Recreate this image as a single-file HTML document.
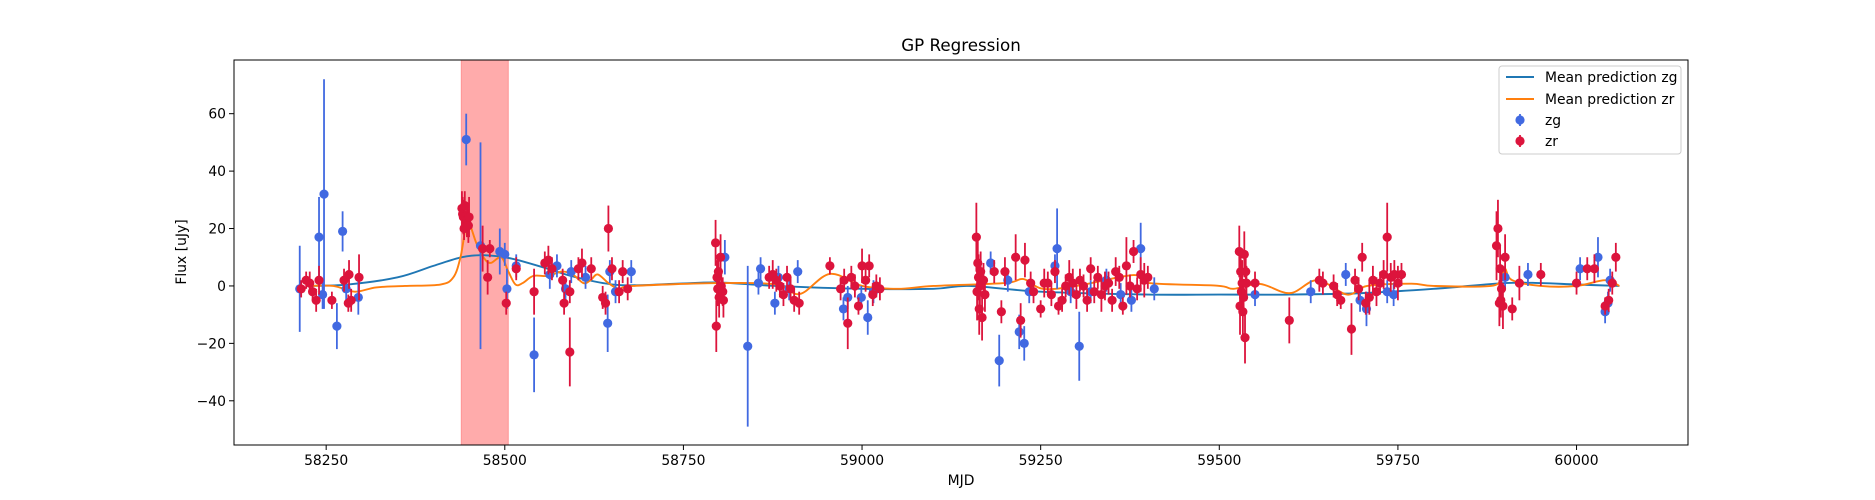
<!DOCTYPE html>
<html><head><meta charset="utf-8"><style>
html,body{margin:0;padding:0;background:#fff;}
svg{display:block;font-family:"DejaVu Sans","Liberation Sans",sans-serif;}
</style></head><body>
<svg id="chart" width="1875" height="500" viewBox="0 0 1875 500" xmlns="http://www.w3.org/2000/svg">
<rect x="0" y="0" width="1875" height="500" fill="#fff"/>
<text x="961" y="51" text-anchor="middle" font-size="16.7">GP Regression</text>
<g id="plot"></g>
<text x="961" y="485" text-anchor="middle" font-size="13.9">MJD</text>
<text x="0" y="0" transform="translate(186,252) rotate(-90)" text-anchor="middle" font-size="13.9">Flux [uJy]</text>
</svg>
<script>
const xTicks=[58250,58500,58750,59000,59250,59500,59750,60000];
const yTicks=[-40,-20,0,20,40,60];
const highlightRange=[58439,58505];
const zgPoints=[[58213,-1,15],[58240,17,14],[58247,32,40],[58245,-3,5],[58265,-14,8],[58273,19,7],[58278,-1,4],[58295,-4,6],[58446,51,9],[58466,14,36],[58493,12,8],[58500,11,4],[58503,-1,7],[58516,7,4],[58541,-24,13],[58563,4,5],[58573,7,4],[58585,-1,4],[58593,5,4],[58613,3,4],[58644,-13,10],[58647,5,4],[58655,-2,4],[58677,5,4],[58808,10,6],[58840,-21,28],[58858,6,4],[58855,1,4],[58878,-6,4],[58883,3,4],[58898,-1,4],[58910,5,4],[58974,-8,4],[58980,-4,4],[58999,-4,4],[59008,-11,6],[59016,-2,4],[59180,8,4],[59192,-26,9],[59204,2,4],[59220,-16,6],[59227,-20,6],[59234,-2,4],[59270,7,4],[59273,13,14],[59292,-2,4],[59304,-21,12],[59320,-2,4],[59342,2,4],[59362,-3,4],[59377,-5,4],[59390,13,9],[59409,-1,4],[59550,-3,4],[59628,-2,4],[59677,4,4],[59697,-5,4],[59706,-8,6],[59735,-2,4],[59744,-3,4],[59932,4,4],[59900,3,4],[60005,6,4],[60030,10,7],[60040,-9,4],[60047,2,4],[60044,-6,4]];
const zrPoints=[[58215,-1,3],[58222,2,3],[58227,1,4],[58231,-2,3],[58236,-5,4],[58240,2,5],[58258,-5,3],[58275,2,4],[58282,4,5],[58281,-6,3],[58285,-5,4],[58296,3,8],[58440,27,6],[58441,25,6],[58442,24,6],[58443,20,4],[58444,28,5],[58447,23,6],[58449,21,6],[58450,24,7],[58469,13,8],[58479,13,3],[58476,3,6],[58502,-6,4],[58516,6,4],[58541,-2,8],[58556,8,4],[58561,9,5],[58566,6,4],[58581,2,4],[58583,-6,4],[58591,-23,12],[58591,-2,4],[58603,6,4],[58608,8,5],[58621,6,4],[58637,-4,4],[58641,-6,4],[58645,20,8],[58650,6,4],[58660,-2,4],[58665,5,4],[58672,-1,4],[58795,15,8],[58796,-14,9],[58797,3,6],[58798,-1,6],[58799,5,6],[58800,-4,7],[58802,10,8],[58803,0,6],[58805,-2,5],[58806,-5,6],[58870,3,4],[58875,4,5],[58880,2,4],[58885,0,4],[58890,-3,4],[58895,3,4],[58900,-1,4],[58905,-5,4],[58912,-6,4],[58955,7,3],[58970,-1,4],[58975,2,4],[58980,-13,9],[58985,3,4],[58990,0,4],[58995,-7,3],[59000,7,6],[59005,2,4],[59010,7,4],[59015,-3,4],[59020,0,4],[59025,-1,4],[59160,17,12],[59161,-2,10],[59162,8,8],[59163,3,8],[59164,-8,9],[59165,0,8],[59166,5,7],[59168,-11,8],[59170,2,6],[59172,-3,6],[59185,5,4],[59195,-9,4],[59200,5,5],[59215,10,8],[59222,-12,6],[59228,9,6],[59236,1,4],[59240,-2,4],[59250,-8,3],[59255,1,5],[59260,1,4],[59265,-3,4],[59270,5,4],[59275,-7,3],[59280,-5,4],[59285,0,4],[59290,3,6],[59295,1,5],[59300,-3,5],[59305,2,4],[59310,0,4],[59315,-5,4],[59320,6,4],[59325,-2,4],[59330,3,4],[59335,-3,6],[59340,0,5],[59345,1,4],[59350,-5,4],[59355,5,5],[59360,3,4],[59365,-7,3],[59370,7,10],[59375,0,4],[59380,12,4],[59385,-1,4],[59390,4,6],[59395,2,6],[59400,3,4],[59528,12,9],[59529,-7,10],[59530,5,7],[59531,-2,7],[59532,1,8],[59533,-9,8],[59534,-4,6],[59535,11,8],[59536,-18,9],[59537,5,6],[59538,1,6],[59550,1,4],[59598,-12,8],[59640,2,4],[59645,1,4],[59660,0,4],[59665,-3,4],[59670,-5,3],[59685,-15,9],[59690,2,4],[59695,-1,4],[59700,10,5],[59705,-6,4],[59710,-4,6],[59715,2,5],[59720,-2,5],[59725,1,4],[59730,4,5],[59735,17,12],[59740,3,5],[59745,4,5],[59750,1,6],[59755,4,4],[59888,14,12],[59890,20,10],[59892,-6,8],[59893,6,8],[59894,-5,6],[59895,-1,6],[59897,-7,8],[59900,10,8],[59910,-8,4],[59920,1,6],[59950,4,4],[60000,1,4],[60015,6,4],[60025,6,5],[60040,-7,3],[60045,-5,4],[60050,1,4],[60055,10,5]];
const zgMean=[[58225,0],[58280,0.5],[58350,3],[58400,7],[58440,10],[58470,10.7],[58510,9.5],[58560,6],[58600,3],[58660,0.3],[58740,0.8],[58800,1.2],[58880,0],[59000,-1],[59100,-1],[59150,0],[59250,-2],[59400,-3],[59500,-3],[59600,-3],[59700,-2.5],[59800,-1],[59900,1],[59950,1],[60000,0.5],[60060,0]];
const zrMean=[[58225,0],[58260,0],[58290,-2],[58320,-0.5],[58360,0],[58410,0.5],[58428,3],[58438,10],[58445,20],[58450,22],[58460,15],[58470,10],[58480,8],[58495,10],[58505,5],[58515,0.5],[58525,1],[58540,3.5],[58560,3.5],[58580,5],[58595,4],[58610,1],[58620,2],[58630,4],[58645,1],[58660,-1],[58680,0],[58800,1],[58880,0.5],[58913,-2.8],[58955,4.2],[59000,0],[59050,-1],[59100,0],[59200,1],[59226,2.4],[59253,-1],[59300,0],[59380,3.8],[59402,1],[59497,0.1],[59520,-1],[59557,0.7],[59599,-2.5],[59637,2],[59679,-3],[59707,0],[59769,0.8],[59800,0],[59880,0],[59895,3],[59900,6],[59910,2],[59950,0],[60000,0],[60040,2],[60060,0]];

const NS='http://www.w3.org/2000/svg';
const L=234,R=1688,T=60,B=445;
const xMin=58121,xMax=60156,yMin=-55.4,yMax=78.7;
const X=v=>L+(v-xMin)/(xMax-xMin)*(R-L);
const Y=v=>B-(v-yMin)/(yMax-yMin)*(B-T);
const plot=document.getElementById('plot');
function mk(tag,attrs,parent){const e=document.createElementNS(NS,tag);for(const k in attrs)e.setAttribute(k,attrs[k]);(parent||plot).appendChild(e);return e;}

// highlight
let hl=mk('rect',{x:X(highlightRange[0]),y:T,width:X(highlightRange[1])-X(highlightRange[0]),height:B-T,fill:'#ff0000','fill-opacity':0.33,stroke:'#ff0000','stroke-opacity':0.25});



function smooth(pts){let d='';const p=pts.map(q=>[X(q[0]),Y(q[1])]);
 d='M'+p[0][0]+','+p[0][1];
 for(let i=0;i<p.length-1;i++){const p0=p[Math.max(0,i-1)],p1=p[i],p2=p[i+1],p3=p[Math.min(p.length-1,i+2)];
  const c1=[p1[0]+(p2[0]-p0[0])/6,p1[1]+(p2[1]-p0[1])/6],c2=[p2[0]-(p3[0]-p1[0])/6,p2[1]-(p3[1]-p1[1])/6];
  d+=' C'+c1[0]+','+c1[1]+' '+c2[0]+','+c2[1]+' '+p2[0]+','+p2[1];}
 return d;}
let lg=mk('path',{d:smooth(zgMean),fill:'none',stroke:'#1f77b4','stroke-width':1.9});


let lr=mk('path',{d:smooth(zrMean),fill:'none',stroke:'#ff7f0e','stroke-width':1.9});



function drawPts(pts,color,name){const g=mk('g',{});
 
 
 pts.forEach(p=>{const x=X(p[0]);
  const ln=mk('line',{x1:x,x2:x,y1:Y(p[1]-p[2]),y2:Y(p[1]+p[2]),stroke:color,'stroke-width':1.8},g);
  
  
  const c=mk('circle',{cx:x,cy:Y(p[1]),r:4.6,fill:color},g);
  
  
 });}
drawPts(zgPoints,'#4169e1','zg');
drawPts(zrPoints,'#dc143c','zr');

// frame
let fr=mk('rect',{x:L,y:T,width:R-L,height:B-T,fill:'none',stroke:'#000','stroke-width':1});


xTicks.forEach(t=>{const x=X(t);
 const tl=mk('line',{x1:x,x2:x,y1:B,y2:B+5,stroke:'#000','stroke-width':1});
 
 
 const tx=mk('text',{x:x,y:B+20,'text-anchor':'middle','font-size':13.9});tx.textContent=t;
 
 });
yTicks.forEach(t=>{const y=Y(t);
 const tl=mk('line',{x1:L-5,x2:L,y1:y,y2:y,stroke:'#000','stroke-width':1});
 
 
 const tx=mk('text',{x:L-8,y:y+5,'text-anchor':'end','font-size':13.9});tx.textContent=(t<0?'\u2212'+(-t):t);
 
 });

// legend
const lgd=mk('g',{});


mk('rect',{x:1499,y:66,width:182,height:88,rx:3,fill:'#fff','fill-opacity':0.8,stroke:'#ccc'},lgd);
const entries=[['line','#1f77b4','Mean prediction zg',77],['line','#ff7f0e','Mean prediction zr',99],['pt','#4169e1','zg',120],['pt','#dc143c','zr',141]];
entries.forEach(e=>{const g=mk('g',{},lgd);
 
 
 if(e[0]=='line')mk('line',{x1:1506,x2:1534,y1:e[3],y2:e[3],stroke:e[1],'stroke-width':1.9},g);
 else{mk('line',{x1:1520,x2:1520,y1:e[3]-6,y2:e[3]+6,stroke:e[1],'stroke-width':1.8},g);mk('circle',{cx:1520,cy:e[3],r:4.6,fill:e[1]},g);}
 const t=mk('text',{x:1545,y:e[3]+5,'font-size':13.9},g);t.textContent=e[2];});
</script>
</body></html>
